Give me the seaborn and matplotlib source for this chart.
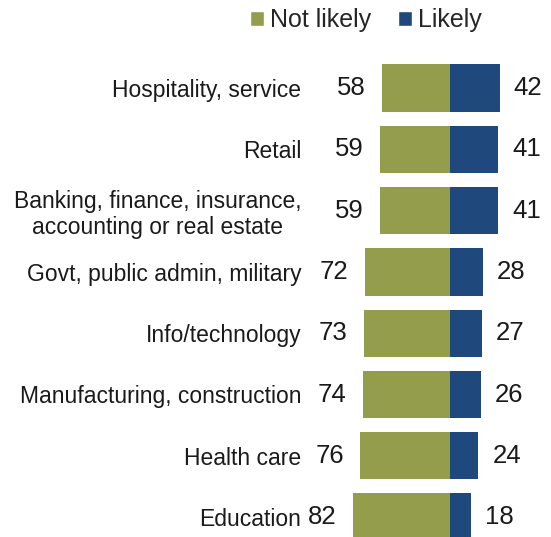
import matplotlib
matplotlib.use("Agg")
import matplotlib.pyplot as plt
from matplotlib.patches import Patch
import seaborn as sns
import pandas as pd

categories = [
    "Hospitality, service",
    "Retail",
    "Banking, finance, insurance,\naccounting or real estate",
    "Govt, public admin, military",
    "Info/technology",
    "Manufacturing, construction",
    "Health care",
    "Education",
]
not_likely = [58, 59, 59, 72, 73, 74, 76, 82]
likely = [42, 41, 41, 28, 27, 26, 24, 18]

OLIVE = "#949d4b"
NAVY = "#1f497c"
TEXT = "#1a1a1a"

sns.set_style("white")
plt.rcParams["font.family"] = ["Liberation Sans", "DejaVu Sans"]

df = pd.DataFrame({"category": categories, "not_likely": not_likely, "likely": likely})
df["neg"] = -df["not_likely"]

W, H = 551, 537
fig = plt.figure(figsize=(W / 100, H / 100), dpi=100)

# axes placement in pixels
ax_left, ax_right = 307, 548
ax_top, ax_bottom = 40, 537
ax = fig.add_axes([ax_left / W, 1 - ax_bottom / H, (ax_right - ax_left) / W, (ax_bottom - ax_top) / H])

sns.barplot(data=df, x="neg", y="category", orient="h", color=OLIVE, width=0.77,
            saturation=1, linewidth=0, ax=ax, order=categories)
sns.barplot(data=df, x="likely", y="category", orient="h", color=NAVY, width=0.77,
            saturation=1, linewidth=0, ax=ax, order=categories)

scale = 1.18  # pixels per percentage point
center_px = 450
ax.set_xlim((ax_left - center_px) / scale, (ax_right - center_px) / scale)
row0, step = 88, 61.3
ax.set_ylim((ax_bottom - row0) / step, (ax_top - row0) / step)

for i, (nl, lk) in enumerate(zip(not_likely, likely)):
    ax.text(-nl - 26, i, f"{nl}", ha="center", va="center", fontsize=18.5, color=TEXT)
    ax.text(lk + 24, i, f"{lk}", ha="center", va="center", fontsize=18.5, color=TEXT)

ax.set_xlabel("")
ax.set_ylabel("")
ax.set_xticks([])
ax.set_yticks(range(len(categories)))
ax.set_yticklabels(categories, fontsize=16.5, color=TEXT)
for lbl in ax.get_yticklabels():
    lbl.set_multialignment("center")
    lbl.set_linespacing(1.18)
ax.tick_params(axis="y", length=0, pad=4)
sns.despine(ax=ax, left=True, bottom=True)

handles = [Patch(facecolor=OLIVE, label="Not likely"), Patch(facecolor=NAVY, label="Likely")]
fig.legend(handles=handles, loc="center", bbox_to_anchor=(366 / W, 1 - 20 / H), ncol=2,
           frameon=False, fontsize=18, handlelength=0.56, handleheight=0.56,
           handletextpad=0.25, columnspacing=1.05, borderaxespad=0, borderpad=0)

fig.savefig("out.png", dpi=100)
